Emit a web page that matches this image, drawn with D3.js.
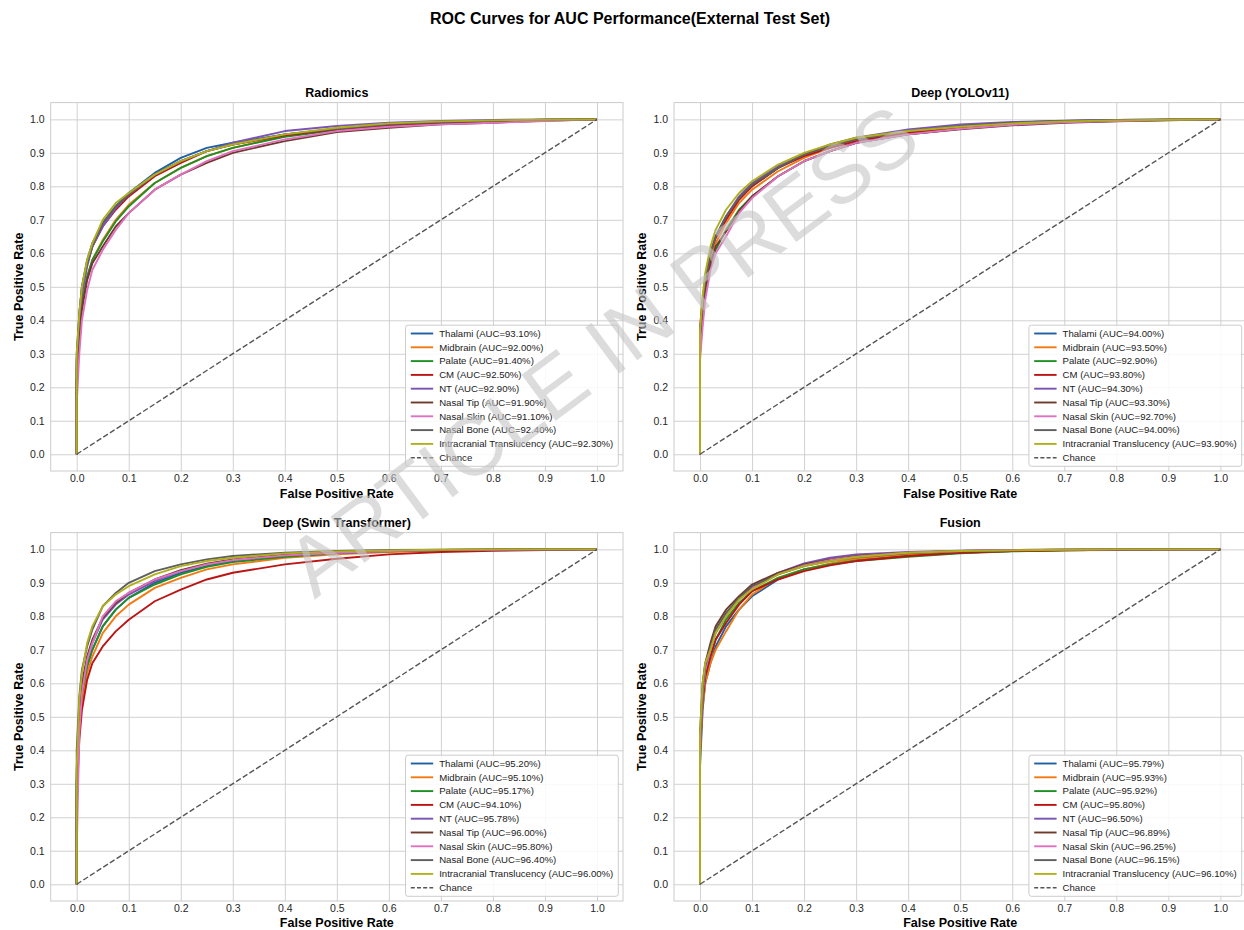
<!DOCTYPE html>
<html>
<head>
<meta charset="utf-8">
<script src="https://cdn.jsdelivr.net/npm/d3@7"></script>
<style>
body { margin: 0; background: #fff; }
svg { font-family: "Liberation Sans", Arial, sans-serif; }
.grid line { stroke: #cccccc; stroke-width: 0.9; }
.grid path { stroke: none; }
.ticklab path { stroke: none; }
.ticklab text { fill: #262626; font-size: 10.5px; }
</style>
</head>
<body>
<script>
// ---------------- data ----------------
var mainTitle = "ROC Curves for AUC Performance(External Test Set)";
var panelTitles = ["Radiomics", "Deep (YOLOv11)", "Deep (Swin Transformer)", "Fusion"];
var seriesNames = ["Thalami", "Midbrain", "Palate", "CM", "NT", "Nasal Tip", "Nasal Skin", "Nasal Bone", "Intracranial Translucency"];
var seriesColors = ["#1f5fa3", "#f27a12", "#1f8f24", "#bb1414", "#7b55b5", "#6e3a2c", "#e070c0", "#5e5e5e", "#b0b01c"];
var tickValues = [0, 0.1, 0.2, 0.3, 0.4, 0.5, 0.6, 0.7, 0.8, 0.9, 1.0];

// AUC values shown in the legends (%)
var radiomicsAuc = [93.10, 92.00, 91.40, 92.50, 92.90, 91.90, 91.10, 92.40, 92.30];
var yoloAuc      = [94.00, 93.50, 92.90, 93.80, 94.30, 93.30, 92.70, 94.00, 93.90];
var swinAuc      = [95.20, 95.10, 95.17, 94.10, 95.78, 96.00, 95.80, 96.40, 96.00];
var fusionAuc    = [95.79, 95.93, 95.92, 95.80, 96.50, 96.89, 96.25, 96.15, 96.10];

// false positive rates at which the curves were read
var fpr = [0, 0, 0.005, 0.01, 0.02, 0.03, 0.05, 0.075, 0.1, 0.15, 0.2, 0.25, 0.3, 0.4, 0.5, 0.6, 0.7, 0.8, 0.9, 1.0];

var radiomicsTpr = [
  [0, 0.30, 0.42, 0.50, 0.58, 0.63, 0.69, 0.74, 0.78, 0.84, 0.885, 0.915, 0.93, 0.955, 0.972, 0.985, 0.992, 0.996, 0.999, 1.0],
  [0, 0.22, 0.36, 0.44, 0.53, 0.58, 0.64, 0.70, 0.745, 0.81, 0.855, 0.89, 0.915, 0.95, 0.97, 0.98, 0.988, 0.993, 0.997, 1.0],
  [0, 0.25, 0.38, 0.45, 0.53, 0.58, 0.635, 0.695, 0.74, 0.81, 0.855, 0.89, 0.915, 0.948, 0.968, 0.98, 0.99, 0.995, 0.998, 1.0],
  [0, 0.28, 0.40, 0.48, 0.57, 0.62, 0.68, 0.73, 0.77, 0.83, 0.87, 0.905, 0.925, 0.952, 0.97, 0.982, 0.99, 0.995, 0.998, 1.0],
  [0, 0.26, 0.40, 0.48, 0.56, 0.62, 0.68, 0.735, 0.775, 0.835, 0.875, 0.905, 0.93, 0.965, 0.98, 0.99, 0.995, 0.998, 1.0, 1.0],
  [0, 0.22, 0.35, 0.43, 0.52, 0.57, 0.62, 0.68, 0.72, 0.79, 0.835, 0.87, 0.90, 0.935, 0.962, 0.975, 0.985, 0.99, 0.996, 1.0],
  [0, 0.15, 0.30, 0.40, 0.49, 0.55, 0.61, 0.67, 0.72, 0.79, 0.835, 0.875, 0.905, 0.94, 0.965, 0.978, 0.985, 0.99, 0.995, 1.0],
  [0, 0.28, 0.42, 0.50, 0.57, 0.62, 0.69, 0.74, 0.775, 0.835, 0.875, 0.905, 0.925, 0.955, 0.972, 0.985, 0.992, 0.996, 0.999, 1.0],
  [0, 0.30, 0.42, 0.50, 0.58, 0.63, 0.70, 0.75, 0.78, 0.835, 0.875, 0.905, 0.925, 0.955, 0.975, 0.988, 0.994, 0.997, 0.999, 1.0]
];
var yoloTpr = [
  [0, 0.35, 0.45, 0.52, 0.60, 0.65, 0.71, 0.765, 0.80, 0.855, 0.895, 0.92, 0.94, 0.965, 0.98, 0.99, 0.995, 0.998, 0.999, 1.0],
  [0, 0.33, 0.43, 0.50, 0.58, 0.63, 0.69, 0.75, 0.79, 0.845, 0.885, 0.915, 0.935, 0.96, 0.975, 0.986, 0.992, 0.996, 0.999, 1.0],
  [0, 0.30, 0.40, 0.48, 0.56, 0.61, 0.67, 0.73, 0.77, 0.83, 0.875, 0.905, 0.93, 0.955, 0.972, 0.984, 0.991, 0.995, 0.998, 1.0],
  [0, 0.38, 0.46, 0.53, 0.60, 0.645, 0.70, 0.76, 0.80, 0.855, 0.89, 0.915, 0.935, 0.96, 0.975, 0.985, 0.992, 0.996, 0.999, 1.0],
  [0, 0.36, 0.45, 0.52, 0.60, 0.65, 0.71, 0.77, 0.81, 0.86, 0.895, 0.925, 0.945, 0.97, 0.985, 0.992, 0.996, 0.998, 1.0, 1.0],
  [0, 0.32, 0.42, 0.49, 0.57, 0.62, 0.665, 0.725, 0.77, 0.83, 0.875, 0.905, 0.93, 0.955, 0.97, 0.982, 0.99, 0.994, 0.997, 1.0],
  [0, 0.28, 0.38, 0.46, 0.55, 0.60, 0.65, 0.72, 0.765, 0.83, 0.875, 0.905, 0.93, 0.955, 0.972, 0.984, 0.991, 0.995, 0.998, 1.0],
  [0, 0.36, 0.45, 0.52, 0.60, 0.65, 0.71, 0.765, 0.805, 0.855, 0.895, 0.92, 0.94, 0.965, 0.98, 0.99, 0.995, 0.998, 0.999, 1.0],
  [0, 0.37, 0.47, 0.54, 0.62, 0.67, 0.73, 0.78, 0.815, 0.865, 0.90, 0.925, 0.945, 0.965, 0.978, 0.988, 0.994, 0.997, 0.999, 1.0]
];
var swinTpr = [
  [0, 0.30, 0.48, 0.56, 0.65, 0.70, 0.77, 0.82, 0.855, 0.90, 0.93, 0.95, 0.965, 0.98, 0.99, 0.995, 0.998, 0.999, 1.0, 1.0],
  [0, 0.28, 0.46, 0.54, 0.63, 0.68, 0.75, 0.80, 0.835, 0.885, 0.915, 0.94, 0.955, 0.975, 0.985, 0.992, 0.996, 0.998, 0.999, 1.0],
  [0, 0.30, 0.48, 0.57, 0.65, 0.70, 0.77, 0.82, 0.855, 0.895, 0.925, 0.948, 0.962, 0.978, 0.988, 0.994, 0.997, 0.999, 1.0, 1.0],
  [0, 0.25, 0.43, 0.52, 0.61, 0.66, 0.71, 0.755, 0.79, 0.845, 0.88, 0.91, 0.93, 0.955, 0.972, 0.985, 0.992, 0.996, 0.998, 1.0],
  [0, 0.32, 0.50, 0.58, 0.67, 0.72, 0.79, 0.835, 0.865, 0.905, 0.935, 0.955, 0.968, 0.982, 0.99, 0.995, 0.998, 0.999, 1.0, 1.0],
  [0, 0.34, 0.52, 0.60, 0.68, 0.73, 0.795, 0.84, 0.87, 0.91, 0.938, 0.957, 0.97, 0.984, 0.992, 0.996, 0.998, 0.999, 1.0, 1.0],
  [0, 0.10, 0.45, 0.57, 0.67, 0.72, 0.80, 0.845, 0.87, 0.91, 0.935, 0.955, 0.968, 0.982, 0.99, 0.995, 0.998, 0.999, 1.0, 1.0],
  [0, 0.40, 0.56, 0.64, 0.71, 0.76, 0.83, 0.87, 0.90, 0.935, 0.955, 0.97, 0.98, 0.99, 0.995, 0.998, 0.999, 1.0, 1.0, 1.0],
  [0, 0.35, 0.55, 0.63, 0.72, 0.77, 0.83, 0.865, 0.89, 0.925, 0.95, 0.965, 0.975, 0.988, 0.994, 0.997, 0.999, 1.0, 1.0, 1.0]
];
var fusionTpr = [
  [0, 0.35, 0.52, 0.60, 0.66, 0.71, 0.77, 0.82, 0.86, 0.91, 0.94, 0.955, 0.97, 0.983, 0.99, 0.995, 0.998, 0.999, 1.0, 1.0],
  [0, 0.38, 0.53, 0.60, 0.66, 0.70, 0.755, 0.82, 0.865, 0.915, 0.94, 0.958, 0.972, 0.985, 0.992, 0.995, 0.997, 0.998, 0.999, 1.0],
  [0, 0.40, 0.55, 0.62, 0.68, 0.73, 0.79, 0.84, 0.875, 0.915, 0.94, 0.955, 0.965, 0.978, 0.988, 0.994, 0.997, 0.999, 1.0, 1.0],
  [0, 0.40, 0.55, 0.62, 0.68, 0.73, 0.78, 0.835, 0.875, 0.91, 0.935, 0.952, 0.965, 0.98, 0.99, 0.995, 0.997, 0.999, 1.0, 1.0],
  [0, 0.42, 0.57, 0.64, 0.70, 0.75, 0.80, 0.855, 0.89, 0.93, 0.958, 0.975, 0.985, 0.992, 0.996, 0.998, 0.999, 1.0, 1.0, 1.0],
  [0, 0.45, 0.60, 0.66, 0.72, 0.77, 0.82, 0.86, 0.895, 0.93, 0.955, 0.97, 0.98, 0.99, 0.995, 0.998, 0.999, 1.0, 1.0, 1.0],
  [0, 0.40, 0.57, 0.64, 0.70, 0.75, 0.805, 0.85, 0.885, 0.925, 0.952, 0.968, 0.978, 0.99, 0.995, 0.998, 0.999, 1.0, 1.0, 1.0],
  [0, 0.42, 0.58, 0.65, 0.71, 0.76, 0.81, 0.855, 0.89, 0.925, 0.95, 0.965, 0.976, 0.988, 0.994, 0.997, 0.999, 1.0, 1.0, 1.0],
  [0, 0.45, 0.60, 0.66, 0.70, 0.75, 0.80, 0.85, 0.88, 0.925, 0.95, 0.965, 0.977, 0.99, 0.995, 0.997, 0.999, 1.0, 1.0, 1.0]
];
var chance = [[0, 0], [1, 1]];

var panelAuc = [radiomicsAuc, yoloAuc, swinAuc, fusionAuc];
var panelTpr = [radiomicsTpr, yoloTpr, swinTpr, fusionTpr];

// ---------------- layout ----------------
var W = 1244, H = 930;
var cols = [[50.7, 623], [674, 1246.4]];
var rows = [[102.6, 471], [532.6, 901]];

var svg = d3.select("body").append("svg")
    .attr("width", W).attr("height", H);

svg.append("text")
    .attr("x", 630).attr("y", 24)
    .attr("text-anchor", "middle")
    .style("font-size", "16px").style("font-weight", "bold")
    .text(mainTitle);

function plot_panel(p) {
    var c = cols[p % 2], r = rows[Math.floor(p / 2)];
    var x = d3.scaleLinear().domain([-0.05, 1.05]).range([c[0], c[1]]);
    var y = d3.scaleLinear().domain([-0.05, 1.05]).range([r[1], r[0]]);
    var g = svg.append("g");

    // grid lines
    g.append("g").attr("class", "grid")
        .attr("transform", "translate(0," + r[1] + ")")
        .call(d3.axisBottom(x).tickValues(tickValues).tickSize(-(r[1] - r[0])).tickFormat(""));
    g.append("g").attr("class", "grid")
        .attr("transform", "translate(" + c[0] + ",0)")
        .call(d3.axisLeft(y).tickValues(tickValues).tickSize(-(c[1] - c[0])).tickFormat(""));

    // frame
    g.append("rect")
        .attr("x", c[0]).attr("y", r[0])
        .attr("width", c[1] - c[0]).attr("height", r[1] - r[0])
        .attr("fill", "none").attr("stroke", "#cccccc").attr("stroke-width", 1);

    // tick labels
    g.append("g").attr("class", "ticklab")
        .attr("transform", "translate(0," + r[1] + ")")
        .call(d3.axisBottom(x).tickValues(tickValues).tickSize(0).tickPadding(4).tickFormat(d3.format(".1f")));
    g.append("g").attr("class", "ticklab")
        .attr("transform", "translate(" + c[0] + ",0)")
        .call(d3.axisLeft(y).tickValues(tickValues).tickSize(0).tickPadding(6).tickFormat(d3.format(".1f")));

    // axis labels + title
    g.append("text")
        .attr("x", (c[0] + c[1]) / 2).attr("y", r[0] - 6)
        .attr("text-anchor", "middle")
        .style("font-size", "12.5px").style("font-weight", "bold")
        .text(panelTitles[p]);
    g.append("text")
        .attr("x", x(0.5)).attr("y", r[1] + (p < 2 ? 27 : 25.5))
        .attr("text-anchor", "middle")
        .style("font-size", "12.5px").style("font-weight", "bold")
        .text("False Positive Rate");
    g.append("text")
        .attr("transform", "translate(" + (c[0] - 28) + "," + ((r[0] + r[1]) / 2) + ") rotate(-90)")
        .attr("text-anchor", "middle")
        .style("font-size", "12.5px").style("font-weight", "bold")
        .text("True Positive Rate");

    // curves
    var line = d3.line().x(function(d) { return x(d[0]); }).y(function(d) { return y(d[1]); });
    panelTpr[p].forEach(function(tpr, i) {
        g.append("path")
            .attr("d", line(tpr.map(function(v, k) { return [fpr[k], v]; })))
            .attr("fill", "none")
            .attr("stroke", seriesColors[i])
            .attr("stroke-width", 1.9)
            .attr("stroke-linejoin", "round");
    });
    g.append("path")
        .attr("d", line(chance))
        .attr("fill", "none")
        .attr("stroke", "#555555")
        .attr("stroke-width", 1.4)
        .attr("stroke-dasharray", "5.5,2.4");

    // legend (lower right)
    var entries = seriesNames.map(function(n, i) {
        return { label: n + " (AUC=" + panelAuc[p][i].toFixed(2) + "%)", color: seriesColors[i], dash: null };
    });
    entries.push({ label: "Chance", color: "#555555", dash: "4,2.2" });
    var pitch = 13.8;
    var lg = g.append("g");
    var box = lg.append("rect");
    var bottom = r[1] - 4.7, right = c[1] - 4.7;
    var firstY = bottom - 8.6 - pitch * (entries.length - 1);
    var texts = [];
    entries.forEach(function(e, i) {
        var yy = firstY + i * pitch;
        lg.append("line")
            .attr("class", "lh")
            .attr("y1", yy).attr("y2", yy)
            .attr("stroke", e.color)
            .attr("stroke-width", e.dash ? 1.4 : 1.9)
            .attr("stroke-dasharray", e.dash);
        texts.push(lg.append("text")
            .attr("y", yy).attr("dy", "0.35em")
            .style("font-size", "9.6px").style("fill", "#1a1a1a")
            .text(e.label));
    });
    var maxW = d3.max(texts, function(t) { return t.node().getComputedTextLength(); });
    var left = right - (33.7 + maxW + 5);
    lg.selectAll("line.lh").attr("x1", left + 5.3).attr("x2", left + 27.7);
    texts.forEach(function(t) { t.attr("x", left + 33.7); });
    box.attr("x", left).attr("y", firstY - 8.3)
        .attr("width", right - left).attr("height", bottom - (firstY - 8.3))
        .attr("rx", 2.5)
        .attr("fill", "#ffffff").attr("fill-opacity", 0.85)
        .attr("stroke", "#cccccc").attr("stroke-width", 1);
}

[0, 1, 2, 3].forEach(plot_panel);

// watermark
svg.append("text")
    .attr("transform", "translate(602,350) rotate(-36.6)")
    .attr("text-anchor", "middle")
    .attr("dy", "0.35em")
    .style("font-size", "83px")
    .style("fill", "rgb(196,196,196)")
    .style("fill-opacity", 0.6)
    .text("ARTICLE IN PRESS");
</script>
</body>
</html>
